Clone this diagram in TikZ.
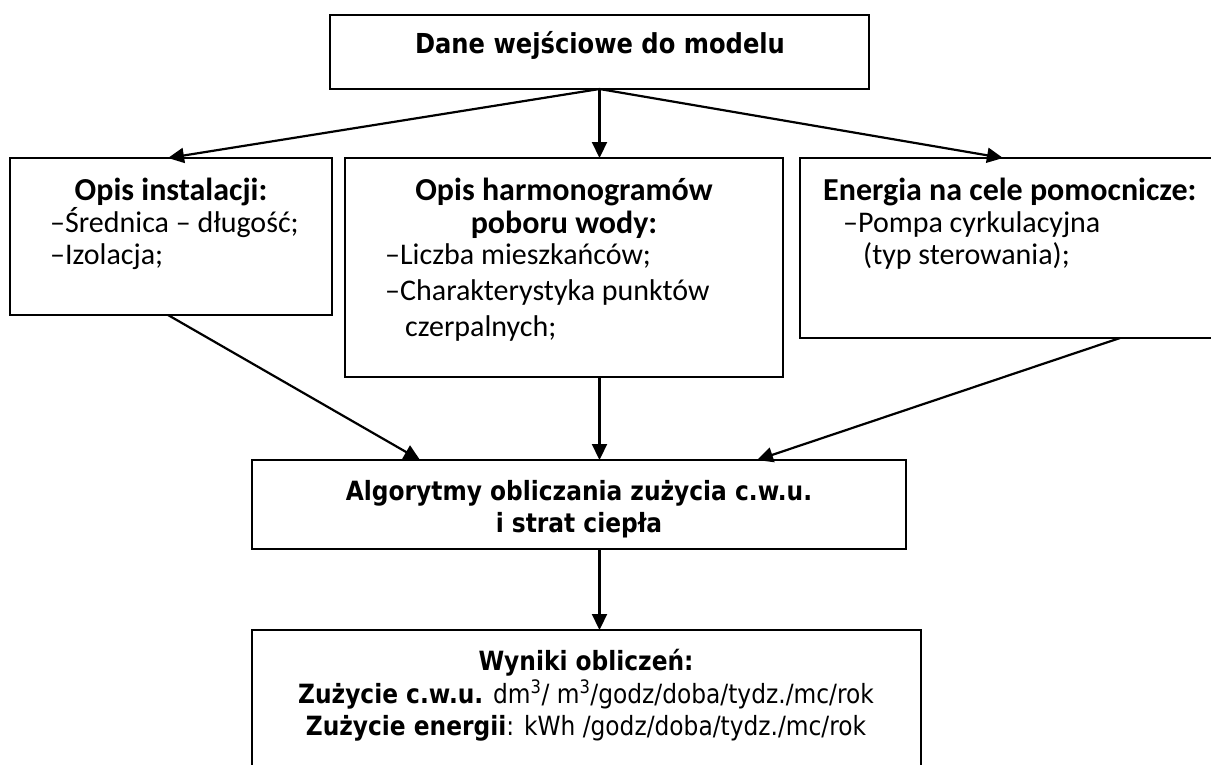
\documentclass[tikz,border=0pt]{standalone}
\usepackage{fontspec}
\setmainfont{Carlito}
\newfontfamily\tah{DejaVu Sans}[FakeStretch=0.88]
\usetikzlibrary{arrows.meta,calc}
\tikzset{
  box/.style={draw, line width=1.8pt, inner sep=0pt, outer sep=0pt, fill=white},
  arr/.style={line width=2.2pt, -{Triangle[length=16pt,width=15pt]}},
  hdr/.style={inner sep=0pt, font=\fontsize{32}{38}\selectfont\bfseries},
  itm/.style={inner sep=0pt, anchor=base west, font=\fontsize{30}{36}\selectfont},
  tb/.style={inner sep=0pt, anchor=base, font=\tah\fontsize{26.5}{32}\selectfont\bfseries},
  tr/.style={inner sep=0pt, anchor=base, font=\tah\fontsize{26.5}{32}\selectfont}
}
\begin{document}
\begin{tikzpicture}[x=1pt,y=-1pt]
\useasboundingbox (0,0) rectangle (1211,764);
\clip (0,0) rectangle (1211,764);
% boxes
\node[box, minimum width=539pt, minimum height=74pt] (top) at (599.5,52) {};
\node[box, minimum width=322pt, minimum height=157pt] (left) at (171,236.5) {};
\node[box, minimum width=438pt, minimum height=219pt] (mid) at (564,267.5) {};
\node[box, minimum width=425pt, minimum height=180pt] (right) at (1012.5,248) {};
\node[box, minimum width=654pt, minimum height=89pt] (alg) at (579,504.5) {};
\node[box, minimum width=669pt, minimum height=160pt] (wyn) at (586.5,710) {};
% texts
\node[tb, font=\tah\fontsize{27.5}{32}\selectfont\bfseries] (topt) at (600,53) {Dane wejściowe do modelu};
\node[hdr, anchor=base] (leftt) at (171,200) {Opis instalacji:};
\node[itm] (left1) at (50,232) {–Średnica – długość;};
\node[itm] (left2) at (50,264) {–Izolacja;};
\node[hdr, anchor=base] (midt1) at (564,200) {Opis harmonogramów};
\node[hdr, anchor=base] (midt2) at (564,233) {poboru wody:};
\node[itm] (mid1) at (385,264) {–Liczba mieszkańców;};
\node[itm] (mid2) at (385,300) {–Charakterystyka punktów};
\node[itm] (mid3) at (405,336) {czerpalnych;};
\node[hdr, anchor=base west] (rightt) at (823,200) {Energia na cele pomocnicze:};
\node[itm] (right1) at (843,232) {–Pompa cyrkulacyjna};
\node[itm] (right2) at (863,264) {(typ sterowania);};
\node[tb] (algt1) at (579,500) {Algorytmy obliczania zużycia c.w.u.};
\node[tb] (algt2) at (579,532) {i strat ciepła};
\node[tb] (wynt1) at (586,670) {Wyniki obliczeń:};
\node[tr] (wynt2) at (586,703) {\textbf{Zużycie c.w.u.} dm\textsuperscript{3}/ m\textsuperscript{3}/godz/doba/tydz./mc/rok};
\node[tr] (wynt3) at (586,735) {\textbf{Zużycie energii}: kWh /godz/doba/tydz./mc/rok};
% connectors
\coordinate (src) at (top.south);
\draw[arr] (src) -- ($(left.north west)+(158,0)$);
\draw[arr] (src) -- (src |- mid.north);
\draw[arr] (src) -- ($(right.north west)+(203,0)$);
\draw[arr] ($(left.south west)+(158,0)$) -- ($(alg.north west)+(168,0)$);
\draw[arr] (src |- mid.south) -- (src |- alg.north);
\draw[arr] ($(right.south west)+(320,0)$) -- ($(alg.north west)+(505,0)$);
\draw[arr] (src |- alg.south) -- (src |- wyn.north);
\end{tikzpicture}
\end{document}
